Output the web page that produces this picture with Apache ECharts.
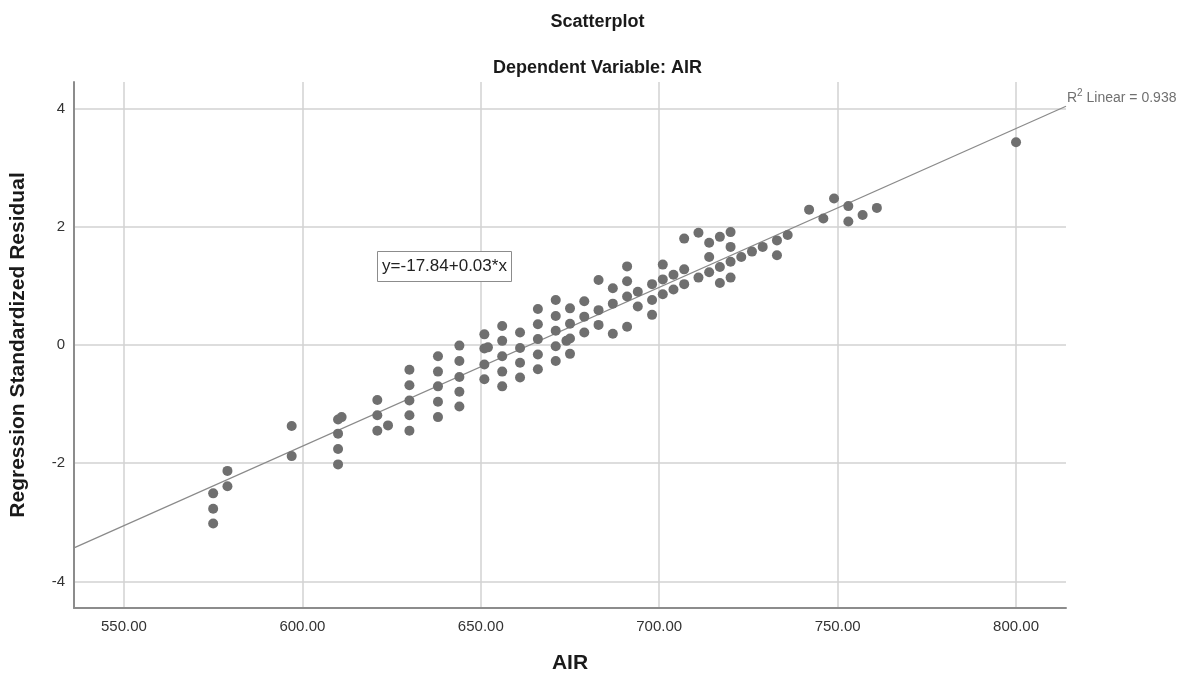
<!DOCTYPE html>
<html>
<head>
<meta charset="utf-8">
<script src="https://cdn.jsdelivr.net/npm/echarts@6/dist/echarts.min.js"></script>
<style>
  html, body { margin: 0; padding: 0; background: #fff; }
  #chart { width: 1195px; height: 679px; }
</style>
</head>
<body>
<div id="chart"></div>
<script>
// AIR values (x) and regression standardized residuals (y), one pair per case
const airValues = [
  575, 575, 575, 579, 579, 597, 597,
  610, 610, 610, 610, 611,
  621, 621, 621, 624,
  630, 630, 630, 630, 630,
  638, 638, 638, 638, 638,
  644, 644, 644, 644, 644,
  651, 651, 651, 651, 652,
  656, 656, 656, 656, 656,
  661, 661, 661, 661,
  666, 666, 666, 666, 666,
  671, 671, 671, 671, 671,
  674, 675, 675, 675, 675,
  679, 679, 679, 683, 683, 683, 687, 687, 687,
  691, 691, 691, 691, 694, 694, 698, 698, 698,
  701, 701, 701, 704, 704, 707, 707, 707, 711, 711,
  714, 714, 714, 717, 717, 717, 720, 720, 720, 720,
  723, 726, 729, 733, 733, 736,
  742, 746, 749, 753, 753, 757, 761, 800
];
const residuals = [
  -2.51, -2.77, -3.02, -2.13, -2.39, -1.37, -1.88,
  -1.26, -1.50, -1.76, -2.02, -1.22,
  -0.93, -1.19, -1.45, -1.36,
  -0.42, -0.68, -0.94, -1.19, -1.45,
  -0.19, -0.45, -0.70, -0.96, -1.22,
  -0.01, -0.27, -0.54, -0.79, -1.04,
  0.18, -0.06, -0.33, -0.58, -0.04,
  0.32, 0.07, -0.19, -0.45, -0.70,
  0.21, -0.05, -0.30, -0.55,
  0.61, 0.35, 0.10, -0.16, -0.41,
  0.76, 0.49, 0.24, -0.02, -0.27,
  0.07, 0.62, 0.36, 0.11, -0.15,
  0.74, 0.48, 0.21, 1.10, 0.59, 0.34, 0.96, 0.70, 0.19,
  1.33, 1.08, 0.82, 0.31, 0.90, 0.65, 1.03, 0.76, 0.51,
  1.36, 1.11, 0.86, 1.19, 0.94, 1.80, 1.28, 1.03, 1.90, 1.14,
  1.73, 1.49, 1.23, 1.83, 1.32, 1.05, 1.91, 1.66, 1.41, 1.14,
  1.49, 1.58, 1.66, 1.77, 1.52, 1.86,
  2.29, 2.14, 2.48, 2.35, 2.09, 2.20, 2.32, 3.43
];

// Axis ticks
const xTicks = [550, 600, 650, 700, 750, 800];
const yTicks = [-4, -2, 0, 2, 4];

// Linear fit (intercept, slope) and its R squared
const fitIntercept = -17.84;
const fitSlope = 0.02688;
const fitR2 = 0.938;
const equationText = 'y=-17.84+0.03*x';

const xMin = 536, xMax = 814;
const yMin = -4.45, yMax = 4.45;

const points = airValues.map((v, i) => [v, residuals[i]]);
const fitLine = [xMin, xMax].map(x => [x, fitIntercept + fitSlope * x]);

const chart = echarts.init(document.getElementById('chart'), null, { renderer: 'canvas' });

const gridColor = '#d2d2d2';
const axisColor = '#8c8c8c';
const fontFamily = 'Liberation Sans, Arial, sans-serif';

chart.setOption({
  animation: false,
  backgroundColor: '#ffffff',
  title: [
    {
      text: 'Scatterplot',
      left: 'center',
      top: 8,
      textStyle: { fontFamily, fontSize: 18, fontWeight: 'bold', color: '#1a1a1a' }
    },
    {
      text: 'Dependent Variable: AIR',
      left: 'center',
      top: 54,
      textStyle: { fontFamily, fontSize: 18, fontWeight: 'bold', color: '#1a1a1a' }
    }
  ],
  grid: { left: 73, right: 129, top: 82, bottom: 70, containLabel: false },
  xAxis: {
    type: 'value',
    min: xMin,
    max: xMax,
    name: 'AIR',
    nameLocation: 'middle',
    nameGap: 45,
    nameTextStyle: { fontFamily, fontSize: 21, fontWeight: 'bold', color: '#1a1a1a' },
    axisLine: { show: true, onZero: false, lineStyle: { color: axisColor, width: 2 } },
    axisTick: { show: false, customValues: xTicks },
    axisLabel: {
      customValues: xTicks,
      formatter: v => v.toFixed(2),
      margin: 11,
      fontFamily, fontSize: 15, color: '#333'
    },
    splitLine: { show: true, lineStyle: { color: gridColor, width: 1.5 } }
  },
  yAxis: {
    type: 'value',
    min: yMin,
    max: yMax,
    name: 'Regression Standardized Residual',
    nameLocation: 'middle',
    nameGap: 45,
    nameRotate: 90,
    nameTextStyle: { fontFamily, fontSize: 21, fontWeight: 'bold', color: '#1a1a1a' },
    axisLine: { show: true, onZero: false, lineStyle: { color: axisColor, width: 2 } },
    axisTick: { show: false, customValues: yTicks },
    axisLabel: {
      customValues: yTicks,
      margin: 9,
      fontFamily, fontSize: 15, color: '#333'
    },
    splitLine: { show: true, lineStyle: { color: gridColor, width: 1.5 } }
  },
  series: [
    {
      type: 'line',
      data: fitLine,
      symbol: 'none',
      silent: true,
      z: 3,
      lineStyle: { color: '#8a8a8a', width: 1.2 }
    },
    {
      type: 'scatter',
      data: points,
      symbol: 'circle',
      symbolSize: 10,
      z: 4,
      itemStyle: { color: '#6f6f6f', opacity: 1 }
    }
  ],
  graphic: [
    {
      type: 'group',
      left: 377,
      top: 251,
      z: 100,
      children: [
        {
          type: 'rect',
          z: 100,
          shape: { x: 0, y: 0, width: 134, height: 30 },
          style: { fill: '#ffffff', stroke: '#8c8c8c', lineWidth: 1 }
        },
        {
          type: 'text',
          z: 101,
          x: 67,
          y: 15,
          style: {
            text: equationText,
            align: 'center',
            verticalAlign: 'middle',
            fontFamily, fontSize: 17, fill: '#222'
          }
        }
      ]
    },
    {
      type: 'text',
      left: 1067,
      top: 88,
      z: 100,
      style: {
        text: '{b|R}{s|2}{b| Linear = ' + fitR2.toFixed(3) + '}',
        rich: {
          b: { fontFamily, fontSize: 14, fill: '#707070', verticalAlign: 'bottom' },
          s: { fontFamily, fontSize: 10, fill: '#707070', verticalAlign: 'top', padding: [0, 0, 7, 0] }
        }
      }
    }
  ]
});
</script>
</body>
</html>
